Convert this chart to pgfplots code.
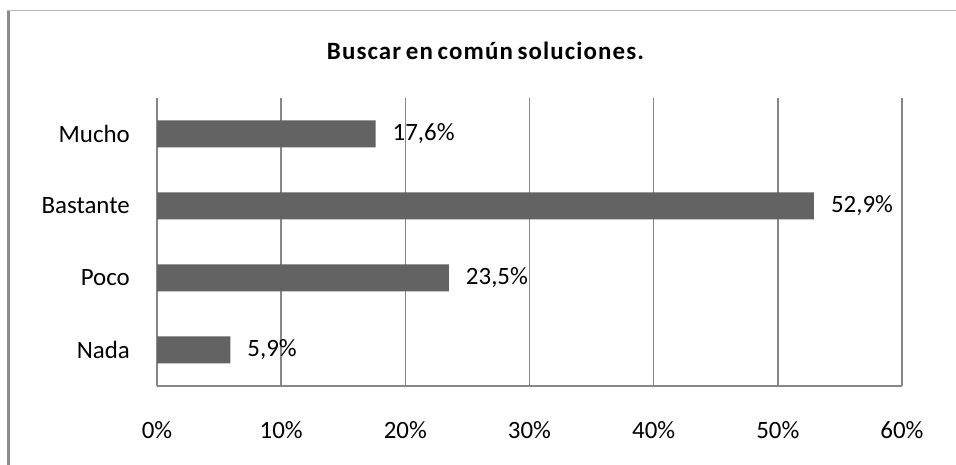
\documentclass[border=0pt]{standalone}
\usepackage{fontspec}
\setmainfont{Carlito}
\newfontfamily\titlefont[LetterSpace=4.5,WordSpace=0.7]{Carlito}
\usepackage{pgfplots}
\pgfplotsset{compat=1.18}
\definecolor{barc}{HTML}{636363}
\definecolor{gridc}{HTML}{878787}
\definecolor{framec}{HTML}{8C8C8C}
\definecolor{topc}{HTML}{BBBBBB}
\begin{document}
\fontsize{25}{30}\selectfont
\begin{tikzpicture}[x=1bp,y=1bp]
\path[use as bounding box] (0,0) rectangle (956,465);
\draw[framec, line width=3bp] (8,0) -- (8,455);
\draw[topc, line width=1bp] (6.5,454) -- (956,454);
\node[inner sep=0pt, font=\titlefont\bfseries\fontsize{25}{30}\selectfont] at (485.5,414) {Buscar en común soluciones.};
\begin{axis}[
  at={(157bp,79bp)}, anchor=south west,
  scale only axis, width=745bp, height=288bp,
  xbar, bar width=27bp,
  xmin=0, xmax=60, ymin=-0.5, ymax=3.5,
  axis lines=left, axis line style={-, gridc, line width=1.5bp},
  xmajorgrids, grid style={gridc, line width=1.5bp},
  major tick length=0pt,
  xtick={0,10,20,30,40,50,60},
  xticklabels={0\%,10\%,20\%,30\%,40\%,50\%,60\%},
  ytick={0,1,2,3},
  yticklabels={Nada,Poco,Bastante,Mucho},
  yticklabel style={inner sep=0pt, anchor=east, xshift=-27bp},
  xticklabel style={inner sep=0pt, anchor=center, yshift=-44bp},
  nodes near coords={\pgfmathprintnumber{\pgfplotspointmeta}\%},
  every node near coord/.append style={anchor=west, inner sep=0pt, xshift=17bp, black},
  /pgf/number format/.cd, use comma, fixed, fixed zerofill, precision=1, assume math mode=true,
  /pgfplots/.cd,
  clip=false,
]
\addplot[fill=barc, draw=none] coordinates {(5.9,0) (23.5,1) (52.9,2) (17.6,3)};
\end{axis}
\end{tikzpicture}
\end{document}
